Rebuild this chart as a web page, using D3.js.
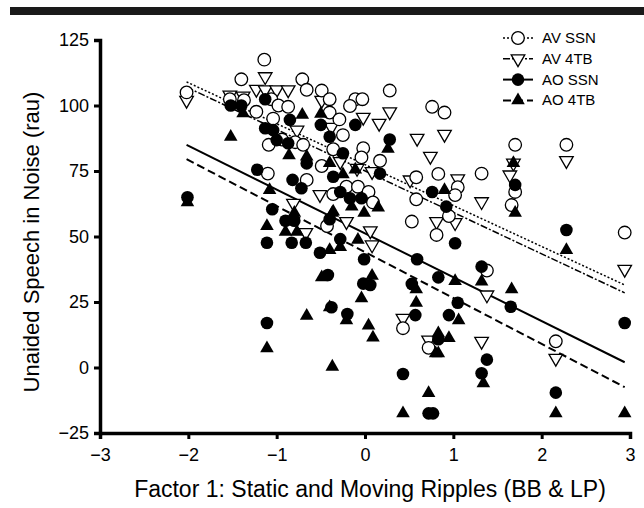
<!DOCTYPE html>
<html>
<head>
<meta charset="utf-8">
<script src="https://cdn.jsdelivr.net/npm/d3@7"></script>
<style>
  body { margin:0; background:#fff; }
  svg { font-family: "Liberation Sans", Arial, sans-serif; }
</style>
</head>
<body>
<div id="chart"></div>
<script>
// ************** DATA **************//
var xTicks = [-3, -2, -1, 0, 1, 2, 3];
var yTicks = [-25, 0, 25, 50, 75, 100, 125];
var seriesNames = ["AV SSN", "AV 4TB", "AO SSN", "AO 4TB"];

// AV SSN (open circles)
var avSsnX = [-2.02,-1.53,-1.40,-1.37,-1.14,-1.06,-0.98,-0.87,-1.23,-1.04,-1.09,-0.94,-0.79,-0.70,-1.10,-0.71,-0.66,-0.49,-0.40,-0.11,
  -0.03,0.28,0.76,0.90,-0.17,-0.40,-0.29,-0.25,-0.02,-0.36,-0.04,0.17,-0.49,-0.66,0.83,0.58,0.58,-0.36,-0.21,-0.08,
  0.04,0.09,1.05,1.02,0.95,0.81,0.53,-0.43,1.70,2.28,1.70,1.66,2.94,1.32,0.43,0.72,1.38,2.16];
var avSsnY = [105,102.4,110,102,117.5,102.4,100,99.5,97.6,95,85,87,86,85,74,110,106,105.7,102.4,102.4,
  102.4,105.7,99.5,97.3,99.8,97.3,94.7,88.7,83.7,83.3,80.2,78.9,76.9,71.6,73.9,72.6,64.2,66.2,69,69,
  67,63,68.8,65.8,57.8,50.6,55.7,54,85,85,67,62,51.5,74,15,7.5,37,10];

// AV 4TB (open triangles, point down)
var av4tbX = [-2.02,-1.53,-1.38,-1.13,-1.23,-1.13,-1.00,-0.87,-0.77,-0.81,-0.49,0.28,0.16,-0.02,0.59,0.90,0.74,-0.51,0.08,-0.28,
  -0.09,1.05,-0.38,0.51,-0.67,-0.21,0.06,0.08,0.43,0.72,1.38,1.32,2.16,2.94,2.28,1.68,1.64,1.32,1.02,0.81];
var av4tbY = [102,104,103.6,111,106.2,106,106,106,90.6,62.7,102,97.6,93.2,95.5,87.5,89,80.6,66,74.8,78.6,
  76,72,91.7,71.6,51.5,55.7,52.2,46.8,18.8,10.5,27.7,10,3.5,37.5,79,78,73.5,63.3,55.3,55.7];

// AO SSN (filled circles)
var aoSsnX = [-2.01,-1.52,-1.40,-1.13,-1.13,-1.04,-1.00,-0.85,-0.87,-0.66,-1.22,-0.82,-0.72,-0.50,-0.40,-0.11,0.28,-0.25,-0.36,0.17,
  -0.28,-0.17,-0.04,0.76,0.92,-1.05,-0.90,-0.80,-1.11,-0.83,-0.67,-0.51,-0.40,-0.28,-0.01,0.59,0.83,0.53,1.05,-0.42,
  -0.02,0.06,-0.38,-0.20,-1.11,0.43,0.72,0.77,0.57,0.95,0.83,1.32,1.65,1.38,1.32,2.16,2.94,2.28,1.70,1.02];
var aoSsnY = [65,100,100,102.4,91.3,90.6,86.8,94.5,85.6,77.9,75.5,71.6,68.4,92.6,88.1,92.6,87,81.8,72.8,74,
  67,64.6,64.6,67,61.4,60.4,56,56,47.6,47.6,47.6,43.8,56.6,49,41.3,41.3,34.4,31.9,24.7,35.3,
  32,31.5,23,20.4,17,-2.5,-17.5,-17.5,20,20,10.8,38.5,23.2,3,-2.2,-9.6,17,52.5,69.7,47.4];

// AO 4TB (filled triangles)
var ao4tbX = [-2.01,-1.52,-1.38,-0.71,-0.50,-0.86,-1.08,0.26,-0.66,-0.40,-0.25,-0.11,0.90,-0.15,0.15,-0.36,-0.01,-0.80,-1.11,-0.90,
  -0.77,-0.40,-0.37,-0.28,-0.08,1.02,0.58,0.58,-0.49,0.08,-0.04,-0.66,-0.37,-0.40,-0.21,0.04,0.09,0.43,0.72,0.80,
  1.32,1.66,1.06,0.83,0.95,0.83,1.34,2.16,2.28,2.94,1.68,1.70,-1.11];
var ao4tbY = [63,88,97,96.4,96.8,81,67.7,83.5,80.5,78,73.7,75.5,67.7,61.4,61,59.5,59,59,54,51.8,
  51.8,44.8,59,46,48.7,33,29.8,24.7,34.4,35,26.4,19.7,0.3,23,18,16,11.4,-17.5,-9.8,5.4,
  32.8,29.8,18,13,11.2,5.4,-6,-17.5,44.8,-17.5,78,59,7.3];

// regression lines: value at first and last x
var fitX = [-2.02, 2.94];
var fitAvSsn = [109, 31.5];
var fitAv4tb = [107, 28.5];
var fitAoSsn = [85, 2];
var fitAo4tb = [79.5, -7.5];

// ************** SETUP **************//
var width = 644, height = 508;
var margin = {top: 40, right: 14, bottom: 75, left: 100};

var svg = d3.select("#chart").append("svg")
  .attr("width", width).attr("height", height);

var x = d3.scaleLinear().domain([-3, 3]).range([margin.left, width - margin.right]);
var y = d3.scaleLinear().domain([-25, 125]).range([height - margin.bottom, margin.top]);

// black bar across the top
svg.append("rect").attr("x", 10).attr("y", 7).attr("width", width - 10).attr("height", 8).attr("fill", "#1a1a1a");

var minus = function(v){ return String(v).replace("-", "\u2212"); };

var xAxis = svg.append("g")
  .attr("transform", "translate(0," + (height - margin.bottom) + ")")
  .call(d3.axisBottom(x).tickValues(xTicks).tickFormat(minus).tickSizeOuter(0).tickSize(6).tickPadding(9));
var yAxis = svg.append("g")
  .attr("transform", "translate(" + margin.left + ",0)")
  .call(d3.axisLeft(y).tickValues(yTicks).tickFormat(minus).tickSizeOuter(0).tickSize(6).tickPadding(5));

[xAxis, yAxis].forEach(function(a){
  a.select(".domain").attr("stroke", "#000").attr("stroke-width", 3.5);
  a.selectAll(".tick line").attr("stroke", "#000").attr("stroke-width", 3);
  a.selectAll(".tick text").attr("fill", "#000").style("font-size", "18px")
    .style("font-family", "'Liberation Sans', Arial, sans-serif");
});

svg.append("text")
  .attr("x", 370).attr("y", 497)
  .attr("text-anchor", "middle")
  .style("font-size", "23px")
  .text("Factor 1: Static and Moving Ripples (BB & LP)");

svg.append("text")
  .attr("transform", "translate(39," + 242 + ") rotate(-90)")
  .attr("text-anchor", "middle")
  .style("font-size", "22px")
  .text("Unaided Speech in Noise (rau)");

// ************** LINES **************//
var dashes = ["2,2", "7,2,2,2", null, "8,4"];
var widths = [1.5, 1.5, 2, 2];
var fits = [fitAvSsn, fitAv4tb, fitAoSsn, fitAo4tb];

var line = d3.line().x(function(d){ return x(d[0]); }).y(function(d){ return y(d[1]); });
fits.forEach(function(f, i){
  svg.append("path")
    .datum([[fitX[0], f[0]], [fitX[1], f[1]]])
    .attr("d", line)
    .attr("fill", "none")
    .attr("stroke", "#000")
    .attr("stroke-width", widths[i])
    .attr("stroke-dasharray", dashes[i]);
});

// ************** POINTS **************//
var triSize = 80;
function marker(sel, kind){
  if (kind == 0) {
    sel.append("circle").attr("r", 6.3).attr("fill", "#fff").attr("stroke", "#000").attr("stroke-width", 1.3);
  } else if (kind == 2) {
    sel.append("circle").attr("r", 6.3).attr("fill", "#000");
  } else if (kind == 1) {
    sel.append("path").attr("d", d3.symbol(d3.symbolTriangle, triSize)).attr("transform", "rotate(180)")
      .attr("fill", "#fff").attr("stroke", "#000").attr("stroke-width", 1.3);
  } else {
    sel.append("path").attr("d", d3.symbol(d3.symbolTriangle, triSize)).attr("fill", "#000");
  }
}

var sets = [
  {k: 1, xs: av4tbX, ys: av4tbY},
  {k: 0, xs: avSsnX, ys: avSsnY},
  {k: 3, xs: ao4tbX, ys: ao4tbY},
  {k: 2, xs: aoSsnX, ys: aoSsnY}
];
sets.forEach(function(s){
  var pts = s.xs.map(function(v, i){ return [v, s.ys[i]]; });
  var g = svg.append("g").selectAll("g")
    .data(pts)
    .enter().append("g")
    .attr("transform", function(d){ return "translate(" + x(d[0]) + "," + y(d[1]) + ")"; });
  marker(g, s.k);
});

// ************** LEGEND **************//
var legend = svg.append("g");
seriesNames.forEach(function(name, i){
  var ly = 38 + i * 20.8;
  legend.append("line")
    .attr("x1", 503).attr("x2", 533).attr("y1", ly).attr("y2", ly)
    .attr("stroke", "#000").attr("stroke-width", widths[i])
    .attr("stroke-dasharray", dashes[i]);
  var m = legend.append("g").attr("transform", "translate(518," + ly + ")");
  marker(m, i);
  legend.append("text")
    .attr("x", 542).attr("y", ly + 5)
    .style("font-size", "15px")
    .text(name);
});
</script>
</body>
</html>
